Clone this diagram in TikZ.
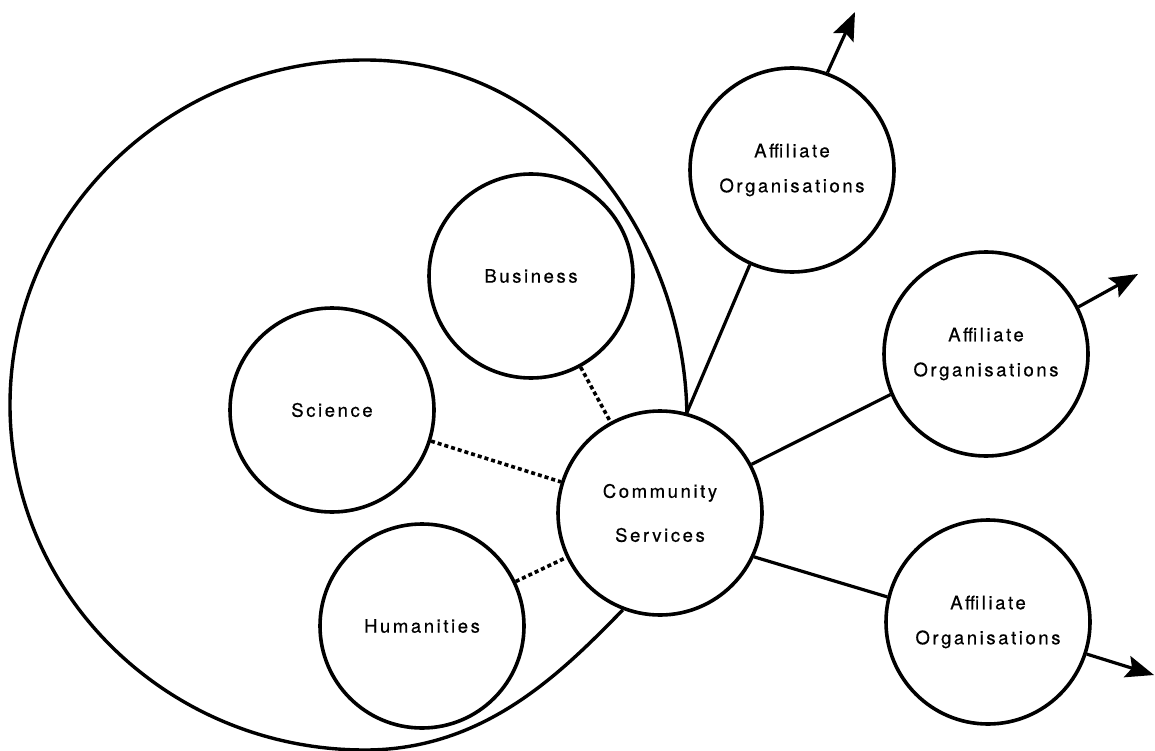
\documentclass[tikz,border=0pt]{standalone}
\usepackage{fontspec}
\setmainfont{TeX Gyre Heros}[LetterSpace=14,FakeBold=0.6]
\usetikzlibrary{arrows.meta}
\begin{document}
\begin{tikzpicture}[x=1pt,y=-1pt,
  unit/.style={circle,draw,line width=3.6pt,minimum size=204pt,inner sep=0pt,
    align=center,font=\fontsize{18.5}{35}\selectfont},
  link/.style={line width=3.2pt},
  dotlink/.style={line width=3.6pt,dash pattern=on 4pt off 3pt},
  outward/.style={line width=3.2pt,-{Stealth[length=28pt,width=22pt,inset=5pt]}},
]
\useasboundingbox (0,0) rectangle (1155,751);

% faculties and the community services hub
\node[unit] (bus) at (531,276) {Business};
\node[unit] (sci) at (332,410) {Science};
\node[unit] (hum) at (422,626) {Humanities};
\node[unit] (cs)  at (660,513) {Community\\[9pt]Services};

% affiliate organisations
\node[unit] (aff1) at (792,170) {Affiliate\\Organisations};
\node[unit] (aff2) at (986,354) {Affiliate\\Organisations};
\node[unit] (aff3) at (988,622) {Affiliate\\Organisations};

% university boundary enclosing the faculties
\draw[line width=3.4pt]
  (cs.75) .. controls (684,240) and (560,60) .. (365,60)
  arc[start angle=270,end angle=90,x radius=355,y radius=345]
  .. controls (485,750) and (562,672) .. (cs.249);

% informal links to the hub
\draw[dotlink] (bus) -- (cs);
\draw[dotlink] (sci) -- (cs);
\draw[dotlink] (hum) -- (cs);

% formal links to affiliates
\draw[link] (cs.75) -- (aff1.246);
\draw[link] (cs.28) -- (aff2.203);
\draw[link] (cs.-25) -- (aff3.166);

% outward arrows
\coordinate (t1) at (855,12);
\coordinate (t2) at (1138,274);
\coordinate (t3) at (1154,675);
\draw[outward] (aff1.70) -- (t1);
\draw[outward] (aff2.27) -- (t2);
\draw[outward] (aff3.-18) -- (t3);
\end{tikzpicture}
\end{document}
